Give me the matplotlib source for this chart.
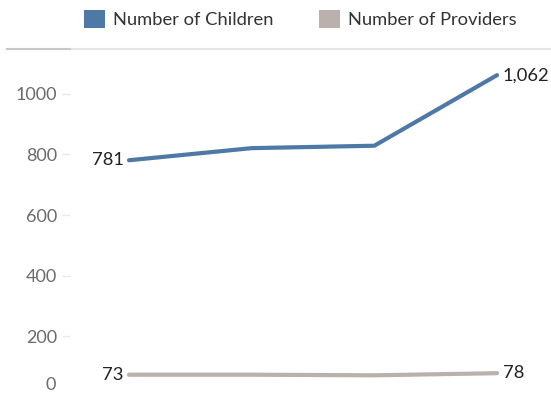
import matplotlib
matplotlib.use("Agg")
import matplotlib.pyplot as plt
from matplotlib.patches import Patch
from matplotlib.lines import Line2D

# data
periods = [0, 1, 2, 3]
children = [781, 821, 829, 1062]
providers = [73, 73, 71, 78]
series_names = ["Number of Children", "Number of Providers"]
yticks = [200, 400, 600, 800, 1000]

blue = "#4e79a7"
grey = "#bab0ac"

plt.rcParams["font.family"] = ["Lato", "DejaVu Sans"]

fig = plt.figure(figsize=(5.51, 3.95), dpi=100)
W, H = 551, 395
ax = fig.add_axes([70 / W, 0, 1 - 70 / W, (H - 50) / H])

ax.plot(periods, children, color=blue, lw=3, solid_capstyle="round")
ax.plot(periods, providers, color=grey, lw=3, solid_capstyle="round")

ax.set_xlim(-0.481, 3.44)
ax.set_ylim(6, 1145)
ax.set_yticks(yticks)
ax.set_yticklabels([str(t) for t in yticks])
ax.set_xticks([])
ax.tick_params(axis="y", length=6, width=1, color="#e8e8e8", pad=3,
               labelsize=13, labelcolor="#6b6b6b")
for s in ax.spines.values():
    s.set_visible(False)

# zero label sits a bit higher (clipped at bottom)
ax.annotate("0", xy=(0, 0), xycoords=("axes fraction", "data"),
            xytext=(-10, 8.5), textcoords="offset points",
            ha="right", va="center", fontsize=13, color="#6b6b6b",
            annotation_clip=False)

# end labels
lab = dict(fontsize=13.2, color="#222222", va="center")
ax.annotate(f"{children[0]:,}", (periods[0], children[0]), xytext=(-4, 0),
            textcoords="offset points", ha="right", **lab)
ax.annotate(f"{children[-1]:,}", (periods[-1], children[-1]), xytext=(4, 0),
            textcoords="offset points", ha="left", **lab)
ax.annotate(f"{providers[0]:,}", (periods[0], providers[0]), xytext=(-4, 0),
            textcoords="offset points", ha="right", **lab)
ax.annotate(f"{providers[-1]:,}", (periods[-1], providers[-1]), xytext=(4, 0),
            textcoords="offset points", ha="left", **lab)

# header divider
fig.add_artist(Line2D([7 / W, 1], [1 - 49 / H] * 2, color="#e6e6e6", lw=1.5))
fig.add_artist(Line2D([7 / W, 70 / W], [1 - 49 / H] * 2, color="#c8c8c8", lw=1.5))

handles = [Patch(facecolor=blue), Patch(facecolor=grey)]
fig.legend(handles, series_names, loc="center", bbox_to_anchor=(0.545, 1 - 19 / H),
           ncol=2, frameon=False, fontsize=13.2, labelcolor="#333333",
           handlelength=1.14, handleheight=1.14, handletextpad=0.44,
           columnspacing=2.45)

fig.savefig("out.png", dpi=100)
